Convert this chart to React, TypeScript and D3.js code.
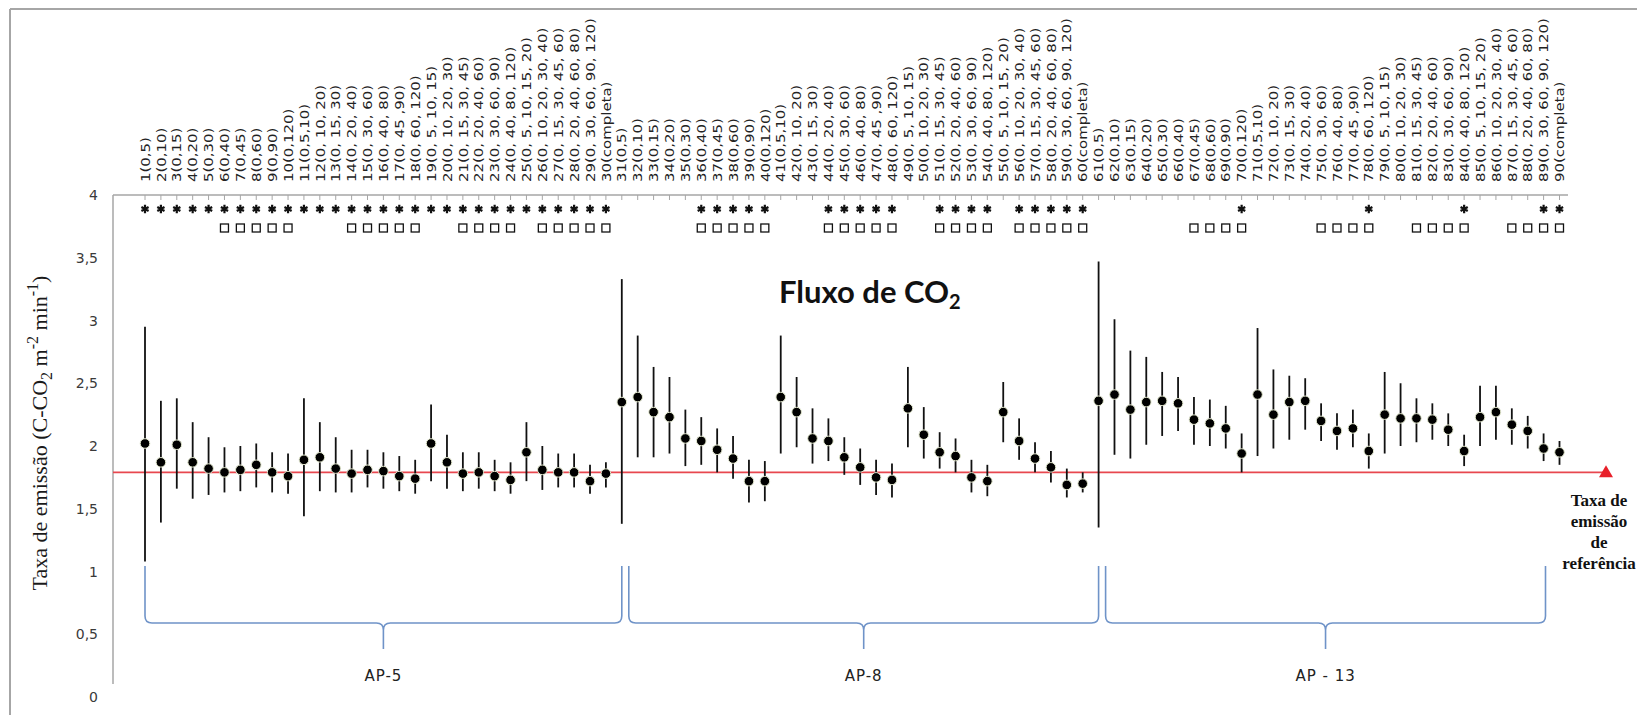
import React from "react";
import * as d3 from "d3";

const W = 1637;
const H = 715;

// treatment sequences, repeated for each of the three areas
const treatments = [
  "(0,5)", "(0,10)", "(0,15)", "(0,20)", "(0,30)", "(0,40)", "(0,45)", "(0,60)", "(0,90)", "(0,120)",
  "(0,5,10)", "(0, 10, 20)", "(0, 15, 30)", "(0, 20, 40)", "(0, 30, 60)", "(0, 40, 80)", "(0, 45 ,90)",
  "(0, 60, 120)", "(0, 5, 10, 15)", "(0, 10, 20, 30)", "(0, 15, 30, 45)", "(0, 20, 40, 60)",
  "(0, 30, 60, 90)", "(0, 40, 80, 120)", "(0, 5, 10, 15, 20)", "(0, 10, 20, 30, 40)",
  "(0, 15, 30, 45, 60)", "(0, 20, 40, 60, 80)", "(0, 30, 60, 90, 120)", "(completa)",
];
const areas = ["AP-5", "AP-8", "AP - 13"];
const labels = d3.range(90).map((i) => `${i + 1}${treatments[i % 30]}`);

const means = [
  2.02, 1.87, 2.01, 1.87, 1.82, 1.79, 1.81, 1.85, 1.79, 1.76,
  1.89, 1.91, 1.82, 1.78, 1.81, 1.8, 1.76, 1.74, 2.02, 1.87,
  1.78, 1.79, 1.76, 1.73, 1.95, 1.81, 1.79, 1.79, 1.72, 1.78,
  2.35, 2.39, 2.27, 2.23, 2.06, 2.04, 1.97, 1.9, 1.72, 1.72,
  2.39, 2.27, 2.06, 2.04, 1.91, 1.83, 1.75, 1.73, 2.3, 2.09,
  1.95, 1.92, 1.75, 1.72, 2.27, 2.04, 1.9, 1.83, 1.69, 1.7,
  2.36, 2.41, 2.29, 2.35, 2.36, 2.34, 2.21, 2.18, 2.14, 1.94,
  2.41, 2.25, 2.35, 2.36, 2.2, 2.12, 2.14, 1.96, 2.25, 2.22,
  2.22, 2.21, 2.13, 1.96, 2.23, 2.27, 2.17, 2.12, 1.98, 1.95,
];
const upper = [
  2.95, 2.36, 2.38, 2.19, 2.07, 1.99, 2.0, 2.02, 1.95, 1.94,
  2.38, 2.19, 2.07, 1.97, 1.97, 1.95, 1.92, 1.89, 2.33, 2.09,
  1.95, 1.95, 1.89, 1.87, 2.19, 2.0, 1.94, 1.94, 1.85, 1.87,
  3.33, 2.88, 2.63, 2.55, 2.29, 2.23, 2.14, 2.08, 1.89, 1.88,
  2.88, 2.55, 2.3, 2.22, 2.07, 1.98, 1.89, 1.86, 2.63, 2.31,
  2.11, 2.06, 1.89, 1.85, 2.51, 2.22, 2.03, 1.96, 1.82, 1.79,
  3.47, 3.01, 2.76, 2.71, 2.59, 2.55, 2.39, 2.37, 2.32, 2.1,
  2.94, 2.61, 2.56, 2.54, 2.34, 2.26, 2.29, 2.1, 2.59, 2.5,
  2.38, 2.34, 2.26, 2.09, 2.48, 2.48, 2.3, 2.24, 2.1, 2.04,
];
const lower = [
  1.08, 1.39, 1.66, 1.58, 1.61, 1.63, 1.64, 1.67, 1.63, 1.62,
  1.44, 1.64, 1.63, 1.63, 1.67, 1.66, 1.64, 1.62, 1.72, 1.66,
  1.64, 1.66, 1.64, 1.62, 1.72, 1.65, 1.67, 1.67, 1.62, 1.67,
  1.38, 1.91, 1.91, 1.94, 1.84, 1.85, 1.79, 1.74, 1.55, 1.56,
  1.94, 1.99, 1.86, 1.88, 1.77, 1.69, 1.61, 1.59, 1.99, 1.9,
  1.82, 1.79, 1.63, 1.6, 2.03, 1.89, 1.79, 1.71, 1.59, 1.63,
  1.35, 1.93, 1.9, 2.01, 2.08, 2.12, 2.01, 2.0, 1.98, 1.79,
  1.92, 1.98, 2.05, 2.13, 2.04, 1.97, 1.99, 1.82, 1.94, 2.0,
  2.03, 2.05, 2.0, 1.84, 2.0, 2.05, 2.01, 1.98, 1.88, 1.85,
];

// significance marks above the points (item numbers)
const starItems = [
  1, 2, 3, 4, 5, 6, 7, 8, 9, 10, 11, 12, 13, 14, 15, 16, 17, 18, 19, 20,
  21, 22, 23, 24, 25, 26, 27, 28, 29, 30,
  36, 37, 38, 39, 40, 44, 45, 46, 47, 48, 51, 52, 53, 54, 56, 57, 58, 59, 60,
  70, 78, 84, 89, 90,
];
const squareItems = [
  6, 7, 8, 9, 10, 14, 15, 16, 17, 18, 21, 22, 23, 24, 26, 27, 28, 29, 30,
  36, 37, 38, 39, 40, 44, 45, 46, 47, 48, 51, 52, 53, 54, 56, 57, 58, 59, 60,
  67, 68, 69, 70, 75, 76, 77, 78, 81, 82, 83, 84, 87, 88, 89, 90,
];
const referenceRate = 1.79;
const yTicks = [0, 0.5, 1, 1.5, 2, 2.5, 3, 3.5, 4];

const ptBR = d3.formatLocale({ decimal: ",", thousands: ".", grouping: [3], currency: ["", ""] });
const fmt = ptBR.format("~g");

const GRAY = "#a6a6a6";
const BRACE = "#6f93c8";

function bracePath(x0: number, x1: number, top: number, mid: number, tip: number, r = 7) {
  const xm = (x0 + x1) / 2;
  return `M${x0},${top} L${x0},${mid - r} Q${x0},${mid} ${x0 + r},${mid} L${xm - r},${mid} Q${xm},${mid} ${xm},${mid + r} L${xm},${tip}
  M${xm},${mid + r} Q${xm},${mid} ${xm + r},${mid} L${x1 - r},${mid} Q${x1},${mid} ${x1},${mid - r} L${x1},${top}`;
}

export default function App() {
  const plotLeft = 113;
  const plotRight = 1568;
  const x = d3.scalePoint<string>().domain(labels).range([145, 1559.5]);
  const y = d3.scaleLinear().domain([0, 4]).range([697, 195]);
  const xi = (n: number) => x(labels[n - 1]) as number;
  const star = d3.symbol().type(d3.symbolAsterisk).size(48)() as string;

  const braces = [
    { x0: xi(1), x1: xi(31) },
    { x0: xi(31) + 7, x1: xi(61) },
    { x0: xi(61) + 7, x1: xi(90) - 14 },
  ];

  return (
    <svg
      width={W}
      height={H}
      style={{ position: "absolute", left: 0, top: 0, background: "#fff", display: "block" }}
    >
      {/* outer frame */}
      <line x1={10} y1={9} x2={W} y2={9} stroke={GRAY} strokeWidth={2} />
      <line x1={10} y1={9} x2={10} y2={H} stroke={GRAY} strokeWidth={2} />

      {/* plot borders */}
      <line x1={plotLeft} y1={y(4)} x2={plotRight} y2={y(4)} stroke={GRAY} strokeWidth={1.5} />
      <line x1={plotLeft} y1={y(4)} x2={plotLeft} y2={684} stroke={GRAY} strokeWidth={1.5} />
      {labels.map((l) => (
        <line key={"t" + l} x1={x(l)} x2={x(l)} y1={y(4)} y2={y(4) + 5} stroke={GRAY} strokeWidth={1} />
      ))}

      {/* y ticks */}
      {yTicks.map((t) => (
        <text
          key={t}
          x={98}
          y={y(t)}
          dy="0.36em"
          textAnchor="end"
          fontFamily="DejaVu Sans"
          fontSize={14}
          fill="#3a3a3a"
        >
          {fmt(t)}
        </text>
      ))}

      {/* y title */}
      <text
        transform={`translate(47, 433) rotate(-90)`}
        textAnchor="middle"
        fontFamily="Liberation Serif"
        fontSize={22}
        fill="#1a1a1a"
      >
        Taxa de emissão (C-CO
        <tspan fontSize={16} dy={5}>2</tspan>
        <tspan dy={-5}> m</tspan>
        <tspan fontSize={16} dy={-9}>-2</tspan>
        <tspan dy={9}> min</tspan>
        <tspan fontSize={16} dy={-9}>-1</tspan>
        <tspan dy={9}>)</tspan>
      </text>

      {/* category labels */}
      {labels.map((l) => (
        <text
          key={"l" + l}
          transform={`translate(${x(l)}, 182) rotate(-90) scale(1.15, 1)`}
          dy="0.36em"
          fontFamily="DejaVu Sans"
          fontSize={13}
          fill="#222"
        >
          {l}
        </text>
      ))}

      {/* marks */}
      {starItems.map((n) => (
        <path key={"s" + n} d={star} transform={`translate(${xi(n)}, 209)`} stroke="#111" strokeWidth={2.2} fill="none" />
      ))}
      {squareItems.map((n) => (
        <rect key={"q" + n} x={xi(n) - 4} y={224} width={8} height={8} fill="none" stroke="#111" strokeWidth={1.3} />
      ))}

      {/* title */}
      <text x={779} y={303} fontFamily="Lato" fontWeight={700} fontSize={31} fill="#111">
        Fluxo de CO<tspan fontSize={20} dy={6}>2</tspan>
      </text>

      {/* reference line */}
      <line x1={plotLeft} x2={plotRight + 38} y1={y(referenceRate)} y2={y(referenceRate)} stroke="#e8474f" strokeWidth={1.6} />
      <path
        d={`M${plotRight + 38},${y(referenceRate) - 7} l7,12 l-14,0 z`}
        fill="#e8202a"
      />
      {["Taxa de", "emissão", "de", "referência"].map((s, i) => (
        <text
          key={s + i}
          x={1599}
          y={506 + i * 21}
          textAnchor="middle"
          fontFamily="Liberation Serif"
          fontWeight={700}
          fontSize={17}
          fill="#111"
        >
          {s}
        </text>
      ))}

      {/* error bars and means */}
      {labels.map((l, i) => (
        <g key={"p" + l}>
          <line x1={x(l)} x2={x(l)} y1={y(upper[i])} y2={y(lower[i])} stroke="#111" strokeWidth={1.8} />
          <circle cx={x(l)} cy={y(means[i])} r={4.8} fill="#000" stroke="#e4e9cf" strokeWidth={1} />
        </g>
      ))}

      {/* area braces */}
      {braces.map((b, i) => (
        <g key={"b" + i}>
          <path d={bracePath(b.x0, b.x1, 566, 623, 649)} fill="none" stroke={BRACE} strokeWidth={1.6} />
          <text
            x={(b.x0 + b.x1) / 2}
            y={681}
            textAnchor="middle"
            fontFamily="DejaVu Sans"
            fontSize={15}
            letterSpacing={1}
            fill="#222"
          >
            {areas[i]}
          </text>
        </g>
      ))}
    </svg>
  );
}
